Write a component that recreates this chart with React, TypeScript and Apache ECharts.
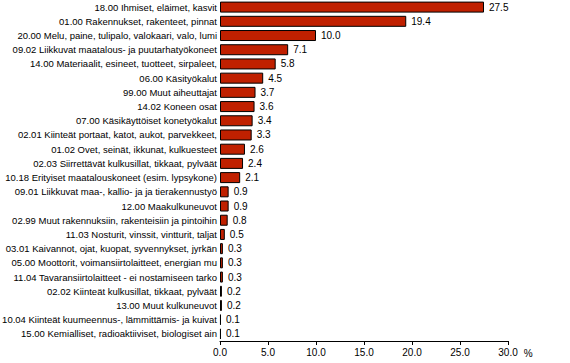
import React, { useEffect, useRef } from "react";
import * as echarts from "echarts";

const categories: string[] = [
  "18.00 Ihmiset, eläimet, kasvit",
  "01.00 Rakennukset, rakenteet, pinnat",
  "20.00 Melu, paine, tulipalo, valokaari, valo, lumi",
  "09.02 Liikkuvat maatalous- ja puutarhatyökoneet",
  "14.00 Materiaalit, esineet, tuotteet, sirpaleet,",
  "06.00 Käsityökalut",
  "99.00 Muut aiheuttajat",
  "14.02 Koneen osat",
  "07.00 Käsikäyttöiset konetyökalut",
  "02.01 Kiinteät portaat, katot, aukot, parvekkeet,",
  "01.02 Ovet, seinät, ikkunat, kulkuesteet",
  "02.03 Siirrettävät kulkusillat, tikkaat, pylväät",
  "10.18 Erityiset maatalouskoneet (esim. lypsykone)",
  "09.01 Liikkuvat maa-, kallio- ja ja tierakennustyö",
  "12.00 Maakulkuneuvot",
  "02.99 Muut rakennuksiin, rakenteisiin ja pintoihin",
  "11.03 Nosturit, vinssit, vintturit, taljat",
  "03.01 Kaivannot, ojat, kuopat, syvennykset, jyrkän",
  "05.00 Moottorit, voimansiirtolaitteet, energian mu",
  "11.04 Tavaransiirtolaitteet - ei nostamiseen tarko",
  "02.02 Kiinteät kulkusillat, tikkaat, pylväät",
  "13.00 Muut kulkuneuvot",
  "10.04 Kiinteät kuumeennus-, lämmittämis- ja kuivat",
  "15.00 Kemialliset, radioaktiiviset, biologiset ain",
];

const values: number[] = [
  27.5, 19.4, 10.0, 7.1, 5.8, 4.5, 3.7, 3.6, 3.4, 3.3, 2.6, 2.4, 2.1, 0.9, 0.9,
  0.8, 0.5, 0.3, 0.3, 0.3, 0.2, 0.2, 0.1, 0.1,
];

const xMin = 0;
const xMax = 30;
const xInterval = 5;
const unitLabel = "%";

const FONT = "Liberation Sans";

export default function App() {
  const ref = useRef<HTMLDivElement>(null);
  useEffect(() => {
    if (!ref.current) return;
    const chart = echarts.init(ref.current, undefined, { renderer: "svg" });
    chart.setOption({
      animation: false,
      backgroundColor: "#ffffff",
      grid: {
        left: 220,
        right: 62,
        top: 0,
        bottom: 22,
        containLabel: false,
        outerBoundsMode: "none",
      },
      xAxis: {
        type: "value",
        min: xMin,
        max: xMax,
        interval: xInterval,
        name: unitLabel,
        nameLocation: "end",
        nameGap: 6,
        nameTextStyle: {
          color: "#000",
          fontFamily: FONT,
          fontSize: 10,
          verticalAlign: "top",
          padding: [7, 0, 0, 0],
        },
        axisLine: { show: true, lineStyle: { color: "#000", width: 1 } },
        axisTick: { show: true, length: 4, lineStyle: { color: "#000" } },
        axisLabel: {
          color: "#000",
          fontFamily: FONT,
          fontSize: 10,
          margin: 6,
          formatter: (v: number) => v.toFixed(1),
        },
        splitLine: { show: false },
      },
      yAxis: {
        type: "category",
        data: categories,
        inverse: true,
        axisLine: { show: false },
        axisTick: { show: false },
        axisLabel: {
          color: "#000",
          fontFamily: FONT,
          fontSize: 9.5,
          margin: 3,
        },
      },
      series: [
        {
          type: "bar",
          data: values,
          barWidth: 11,
          itemStyle: {
            color: "#c02000",
            borderColor: "#000",
            borderWidth: 1,
          },
          label: {
            show: true,
            position: "right",
            distance: 5,
            color: "#000",
            fontFamily: FONT,
            fontSize: 10,
            formatter: (p: any) => Number(p.value).toFixed(1),
          },
        },
      ],
    });
    return () => chart.dispose();
  }, []);
  return (
    <div
      ref={ref}
      style={{ position: "fixed", left: 0, top: 0, width: 570, height: 363 }}
    />
  );
}
